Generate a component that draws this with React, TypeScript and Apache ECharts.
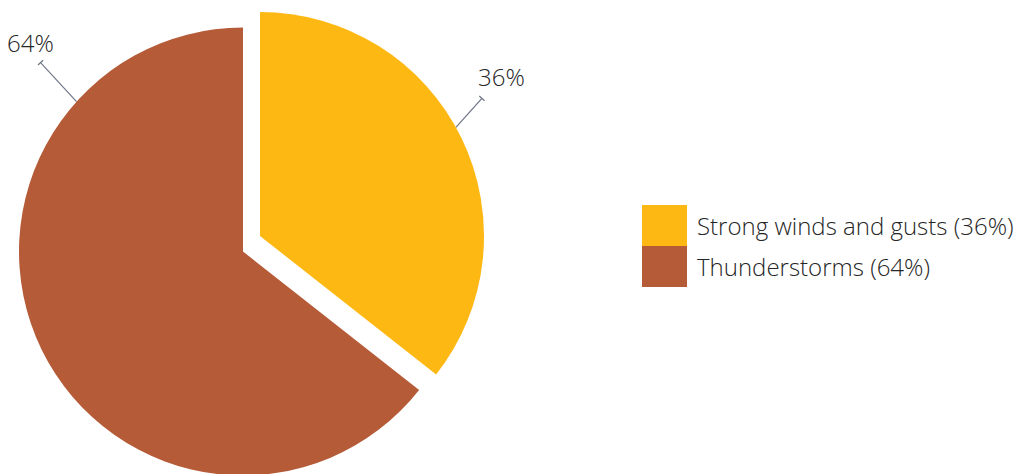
import React, { useEffect, useRef } from "react";
import * as echarts from "echarts";

const categories = ["Strong winds and gusts", "Thunderstorms"];
const values = [35.6, 64.4];
const colors = ["#FDB813", "#B55B38"];
const labelAngles = [61, 312]; // degrees clockwise from top where leader line starts
const leaderOffsets: [number, number][] = [
  [26, -29],
  [-36, -39],
];
const labelPos: [number, number][] = [
  [478, 76],
  [7, 42],
];

const FONT = "'Open Sans', 'Noto Sans', sans-serif";
const R = 224;
const centers: [number, number][] = [
  [260, 236],
  [243, 251.5],
];

const total = values.reduce((a, b) => a + b, 0);
const pct = (v: number) => Math.round((v / total) * 100) + "%";

function leader(idx: number) {
  const [cx, cy] = centers[idx];
  const a = (labelAngles[idx] * Math.PI) / 180;
  const sx = cx + R * Math.sin(a);
  const sy = cy - R * Math.cos(a);
  const ex = sx + leaderOffsets[idx][0];
  const ey = sy + leaderOffsets[idx][1];
  const len = Math.hypot(leaderOffsets[idx][0], leaderOffsets[idx][1]);
  const px = (-leaderOffsets[idx][1] / len) * 3.5;
  const py = (leaderOffsets[idx][0] / len) * 3.5;
  return { sx, sy, ex, ey, px, py };
}

export default function App() {
  const ref = useRef<HTMLDivElement>(null);
  useEffect(() => {
    if (!ref.current) return;
    const chart = echarts.init(ref.current, undefined, { renderer: "svg" });
    const series = [0, 1].map((si) => ({
      type: "pie",
      radius: R,
      center: centers[si],
      startAngle: 90,
      clockwise: true,
      avoidLabelOverlap: false,
      z: 2,
      data: categories.map((name, i) => ({
        name,
        value: values[i],
        itemStyle: { color: colors[i], opacity: i === si ? 1 : 0 },
        label: { show: i === si },
        labelLine: { show: i === si },
      })),
      label: {
        show: true,
        position: "outside",
        overflow: "none",
        formatter: (p: any) => pct(p.value),
        fontFamily: FONT,
        fontSize: 24,
        fontWeight: 300,
        color: "#262626",
      },
      labelLine: {
        show: true,
        lineStyle: { color: "#6E7585", width: 1.2 },
      },
      labelLayout: () => {
        const l = leader(si);
        return {
          x: labelPos[si][0],
          y: labelPos[si][1],
          align: "left",
          verticalAlign: "middle",
          labelLinePoints: [
            [l.sx, l.sy],
            [l.ex, l.ey],
            [l.ex + l.px, l.ey + l.py],
            [l.ex - l.px, l.ey - l.py],
          ],
        };
      },
      emphasis: { disabled: true },
      silent: true,
    }));
    chart.setOption({
      animation: false,
      backgroundColor: "#ffffff",
      legend: {
        orient: "vertical",
        left: 642,
        top: 205,
        padding: 0,
        itemWidth: 45,
        itemHeight: 41,
        itemGap: 0,
        icon: "rect",
        selectedMode: false,
        data: categories.map((name, i) => ({
          name,
          itemStyle: { color: colors[i], opacity: 1 },
        })),
        formatter: (name: string) => {
          const i = categories.indexOf(name);
          return `${name} (${pct(values[i])})`;
        },
        textStyle: {
          fontFamily: FONT,
          fontSize: 24,
          fontWeight: 300,
          color: "#262626",
          padding: [0, 0, 0, 5],
        },
      },
      series,
    });
    return () => chart.dispose();
  }, []);
  return (
    <div
      ref={ref}
      style={{ position: "fixed", left: 0, top: 0, width: 1014, height: 474 }}
    />
  );
}
